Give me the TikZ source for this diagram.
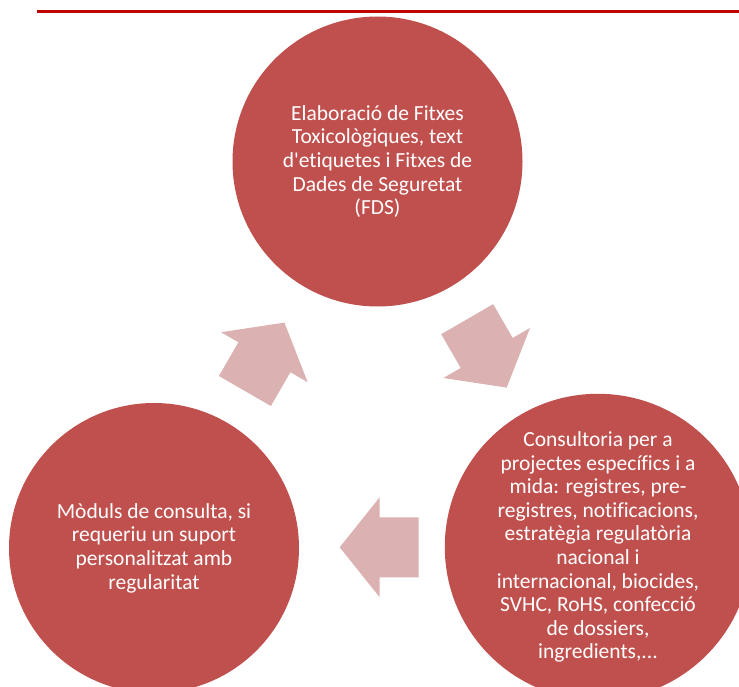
\documentclass[tikz,border=0pt]{standalone}
\usepackage{fontspec}
\setmainfont{Carlito}[Ligatures={TeXOff,CommonOff}]
\usepackage{xcolor}
\definecolor{circred}{HTML}{C0504D}
\definecolor{arrowpink}{HTML}{DBB1B1}
\definecolor{rulered}{HTML}{C00000}

\tikzset{
  pics/cyclearrow/.style={code={
    \fill[arrowpink] (0,-30) -- (39,-30) -- (39,-50) -- (79,0) -- (39,50) -- (39,30) -- (0,30) -- cycle;
  }}
}

\begin{document}
\begin{tikzpicture}[x=1pt, y=-1pt,
  stage/.style={circle, fill=circred, text=white, minimum size=290pt, inner sep=0pt,
    align=center, font=\fontsize{21.5}{23.6}\selectfont}
]
\clip (0,0) rectangle (739,687);
\draw[rulered, line width=2.3pt] (37,11.5) -- (739,11.5);

\node[stage] (fds) at (377.5,161.5) {Elaboració de Fitxes\\Toxicològiques, text\\d'etiquetes i Fitxes de\\Dades de Seguretat\\(FDS)};
\node[stage] (consult) at (598,547) {Consultoria per a\\projectes específics i a\\mida: registres, pre-\\registres, notificacions,\\estratègia regulatòria\\nacional i\\internacional, biocides,\\SVHC, RoHS, confecció\\de dossiers,\\ingredients,...};
\node[stage] (modul) at (154,548) {Mòduls de consulta, si\\requeriu un suport\\personalitzat amb\\regularitat};

\pic[rotate=-60] (toconsult) at (467.2,319.2) {cyclearrow};
\pic[rotate=180] (tomodul) at (418.7,547.3) {cyclearrow};
\pic[rotate=60] (tofds) at (244.9,391) {cyclearrow};
\end{tikzpicture}
\end{document}
